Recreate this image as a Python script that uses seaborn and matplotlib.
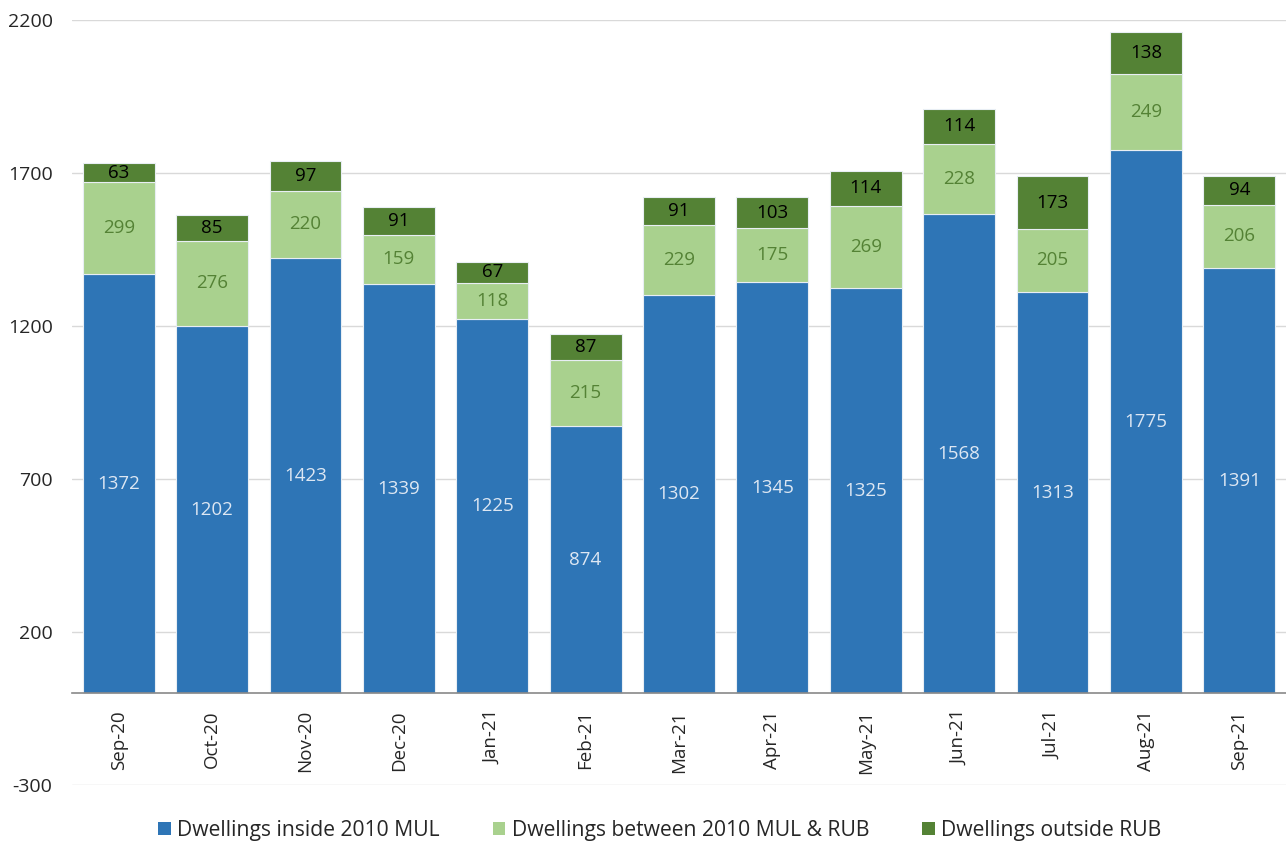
import numpy as np
import pandas as pd
import matplotlib
matplotlib.use("Agg")
import matplotlib.pyplot as plt
import seaborn as sns
from matplotlib.patches import Patch

months = ["Sep-20", "Oct-20", "Nov-20", "Dec-20", "Jan-21", "Feb-21", "Mar-21",
          "Apr-21", "May-21", "Jun-21", "Jul-21", "Aug-21", "Sep-21"]
inside_mul = [1372, 1202, 1423, 1339, 1225, 874, 1302, 1345, 1325, 1568, 1313, 1775, 1391]
between_mul_rub = [299, 276, 220, 159, 118, 215, 229, 175, 269, 228, 205, 249, 206]
outside_rub = [63, 85, 97, 91, 67, 87, 91, 103, 114, 114, 173, 138, 94]

series_names = ["Dwellings inside 2010 MUL", "Dwellings between 2010 MUL & RUB",
                "Dwellings outside RUB"]
colors = ["#2E75B6", "#A9D18E", "#548235"]
label_colors = ["#DDE7F3", "#548235", "#000000"]
yticks = [-300, 200, 700, 1200, 1700, 2200]

sns.set_theme(style="white")
plt.rcParams['font.family'] = ['Open Sans', 'DejaVu Sans']

fig = plt.figure(figsize=(12.86, 8.47), dpi=100)
ax = fig.add_axes([0.056, 0.073, 0.944, 0.903])

df = pd.DataFrame({"month": months, "inside": inside_mul,
                   "between": between_mul_rub, "outside": outside_rub})
bottoms = np.zeros(len(months))
for col, color, lcol in zip(["inside", "between", "outside"], colors, label_colors):
    sns.barplot(data=df, x="month", y=col, color=color, bottom=bottoms, width=0.77,
                edgecolor="#E8EEF4", linewidth=0.8, saturation=1, ax=ax, zorder=3)
    vals = df[col].to_numpy()
    for i, v in enumerate(vals):
        ax.text(i, bottoms[i] + v / 2, str(v), ha="center", va="center",
                color=lcol, fontsize=13.5, zorder=4)
    bottoms = bottoms + vals

ax.set_ylim(-300, 2200)
ax.set_xlim(-0.5, len(months) - 0.5)
ax.set_yticks(yticks)
ax.set_yticklabels([str(t) for t in yticks], fontsize=14)
ax.yaxis.grid(True, color="#D9D9D9", linewidth=1, zorder=0)
ax.set_axisbelow(True)
ax.set_xlabel("")
ax.set_ylabel("")
for s in ["top", "right", "left"]:
    ax.spines[s].set_visible(False)
ax.spines["bottom"].set_position(("data", 0))
ax.spines["bottom"].set_color("#898989")
ax.spines["bottom"].set_linewidth(1.2)
ax.spines["bottom"].set_zorder(5)
ax.tick_params(axis="x", length=0, pad=12, labelsize=13.5, rotation=90)
ax.tick_params(axis="y", length=0, pad=14)

handles = [Patch(facecolor=c, edgecolor="none") for c in colors]
fig.legend(handles, series_names, loc="lower center", ncol=3, frameon=False,
           fontsize=15.2, handlelength=0.6, handleheight=0.6, handletextpad=0.3,
           columnspacing=2.5, bbox_to_anchor=(0.513, -0.015))

fig.savefig("out.png", dpi=100)
